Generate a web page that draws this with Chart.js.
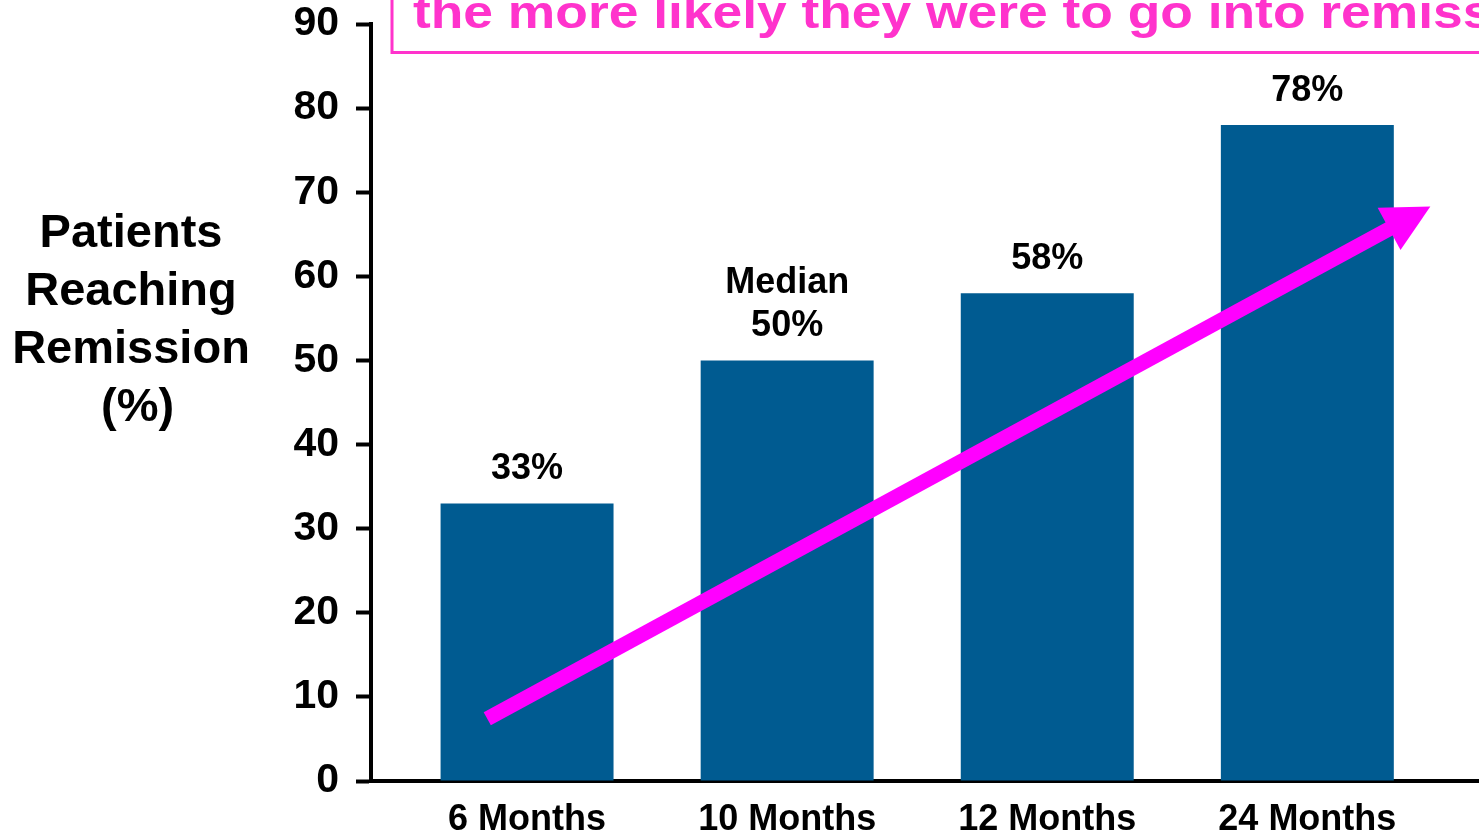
<!DOCTYPE html>
<html>
<head>
<meta charset="utf-8">
<title>Patients Reaching Remission</title>
<script src="https://cdn.jsdelivr.net/npm/chart.js@4.4.0/dist/chart.umd.min.js"></script>
<style>
  html, body { margin: 0; padding: 0; background: #fff; overflow: hidden; }
  #wrap { width: 1479px; height: 831px; position: relative; }
</style>
</head>
<body>
<div id="wrap"><canvas id="remissionChart"></canvas></div>
<script>
const categories = ['6 Months', '10 Months', '12 Months', '24 Months'];
const remission = [33, 50, 58, 78];
const notes = ['', 'Median', '', ''];
const yMax = 90;
const yStep = 10;
const axisTitle = ['Patients', 'Reaching', 'Remission', ' (%)'];
const callout = 'the more likely they were to go into remission';

const FONT = "'Liberation Sans', Arial, Helvetica, sans-serif";
const BAR = '#005b91';
const PINK = '#ff33cc';
const MAGENTA = '#ff00ff';

// trend arrow, in axis units
const arrowFrom = { x: -0.153, y: 7.4 };
const arrowTo = { x: 3.473, y: 68.3 };

const extras = {
  id: 'extras',
  afterDatasetsDraw(chart) {
    const { ctx, scales } = chart;
    const x = scales.x, y = scales.y;

    // arrow
    const p0 = { x: x.getPixelForValue(arrowFrom.x), y: y.getPixelForValue(arrowFrom.y) };
    const p1 = { x: x.getPixelForValue(arrowTo.x), y: y.getPixelForValue(arrowTo.y) };
    const len = Math.hypot(p1.x - p0.x, p1.y - p0.y);
    const ux = (p1.x - p0.x) / len, uy = (p1.y - p0.y) / len;
    const headLen = 47, headHalf = 24;
    const bx = p1.x - ux * headLen, by = p1.y - uy * headLen;
    ctx.save();
    ctx.strokeStyle = MAGENTA;
    ctx.fillStyle = MAGENTA;
    ctx.lineWidth = 15;
    ctx.lineCap = 'butt';
    ctx.beginPath();
    ctx.moveTo(p0.x, p0.y);
    ctx.lineTo(bx + ux * 2, by + uy * 2);
    ctx.stroke();
    ctx.beginPath();
    ctx.moveTo(p1.x, p1.y);
    ctx.lineTo(bx - uy * headHalf, by + ux * headHalf);
    ctx.lineTo(bx + uy * headHalf, by - ux * headHalf);
    ctx.closePath();
    ctx.fill();
    ctx.restore();
  },
  afterDraw(chart) {
    const { ctx, chartArea } = chart;
    ctx.save();

    // value labels above bars
    ctx.fillStyle = '#000';
    ctx.font = 'bold 36px ' + FONT;
    ctx.textAlign = 'center';
    ctx.textBaseline = 'alphabetic';
    chart.getDatasetMeta(0).data.forEach((bar, i) => {
      const lines = notes[i] ? [notes[i], remission[i] + '%'] : [remission[i] + '%'];
      lines.reverse().forEach((t, k) => {
        ctx.fillText(t, bar.x, bar.y - 24 - k * 43);
      });
    });

    // y axis title
    ctx.font = 'bold 47px ' + FONT;
    axisTitle.forEach((t, i) => ctx.fillText(t, 131, 247 + i * 58));

    // callout box at the top
    const left = chartArea.left + 21;
    ctx.strokeStyle = PINK;
    ctx.lineWidth = 3;
    ctx.strokeRect(left, -20, chart.width, 72.5);
    ctx.fillStyle = PINK;
    ctx.textAlign = 'left';
    ctx.font = 'bold 46px ' + FONT;
    ctx.translate(left + 21, 28);
    ctx.scale(1.16, 1);
    ctx.fillText(callout, 0, 0);
    ctx.restore();
  }
};

new Chart(document.getElementById('remissionChart'), {
  type: 'bar',
  data: {
    datasets: [{
      data: remission.map((v, i) => ({ x: i, y: v })),
      backgroundColor: BAR,
      borderWidth: 0,
      categoryPercentage: 1,
      barPercentage: 0.665
    }]
  },
  options: {
    responsive: true,
    maintainAspectRatio: false,
    animation: false,
    layout: { padding: { top: 24, left: 0, right: 0, bottom: 0 } },
    plugins: {
      legend: { display: false },
      tooltip: { enabled: false }
    },
    scales: {
      x: {
        type: 'linear',
        offset: false,
        min: -0.6,
        max: 3.66,
        afterBuildTicks: s => { s.ticks = categories.map((_, i) => ({ value: i })); },
        afterFit: s => {
          s.height = 50;
          s.paddingLeft = 0;
          s.paddingRight = 0;
        },
        ticks: {
          autoSkip: false,
          maxRotation: 0,
          padding: 9,
          color: '#000',
          font: { family: FONT, size: 36, weight: 'bold' },
          callback: v => categories[v]
        },
        grid: { display: false },
        border: { display: true, width: 4, color: '#000' }
      },
      y: {
        min: 0,
        max: yMax,
        afterFit: s => {
          s.width = 371;
          s.paddingTop = 0;
          s.paddingBottom = 0;
        },
        ticks: {
          stepSize: yStep,
          padding: 17,
          color: '#000',
          font: { family: FONT, size: 41, weight: 'bold' }
        },
        grid: {
          drawOnChartArea: false,
          drawTicks: true,
          tickLength: 15,
          tickWidth: 4,
          tickColor: '#000'
        },
        border: { display: true, width: 4, color: '#000' }
      }
    }
  },
  plugins: [extras]
});
</script>
</body>
</html>
